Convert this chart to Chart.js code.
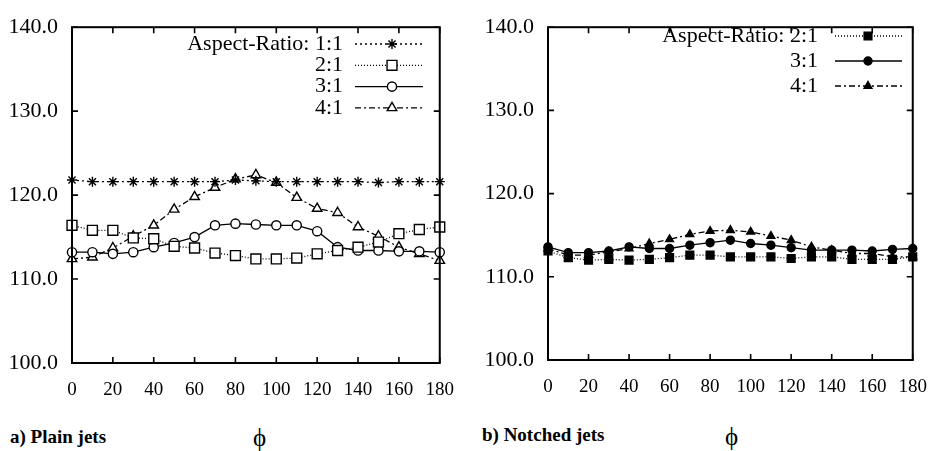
<!DOCTYPE html>
<html>
<head>
<meta charset="utf-8">
<script src="https://cdn.jsdelivr.net/npm/chart.js@4.4.0/dist/chart.umd.min.js"></script>
<style>
  body { margin: 0; background: #fff; width: 943px; height: 451px; position: relative; overflow: hidden; font-family: "Liberation Serif", serif; color: #000; }
  canvas { position: absolute; top: 0; }
  #plain { left: 0; }
  #notched { left: 470px; }
  .cap { position: absolute; font-weight: bold; font-size: 19px; line-height: 22px; white-space: nowrap; }
  .phi { position: absolute; font-size: 25px; line-height: 28px; }
</style>
</head>
<body>
<canvas id="plain" width="470" height="405"></canvas>
<canvas id="notched" width="473" height="405"></canvas>
<div class="cap" style="left:10px;top:426px">a) Plain jets</div>
<div class="phi" style="left:253px;top:424px">ϕ</div>
<div class="cap" style="left:482px;top:424px">b) Notched jets</div>
<div class="phi" style="left:725px;top:423px">ϕ</div>
<script>
// jet angle phi (deg)
const angles = [0, 10, 20, 30, 40, 50, 60, 70, 80, 90, 100, 110, 120, 130, 140, 150, 160, 170, 180];

// a) plain jets
const plainLabels = ['Aspect-Ratio: 1:1', '2:1', '3:1', '4:1'];
const plain11 = [121.8, 121.6, 121.6, 121.6, 121.6, 121.6, 121.6, 121.6, 121.8, 121.7, 121.6, 121.6, 121.6, 121.6, 121.6, 121.5, 121.6, 121.6, 121.6];
const plain21 = [116.4, 115.8, 115.8, 114.9, 114.8, 113.9, 113.7, 113.1, 112.8, 112.4, 112.4, 112.5, 113.0, 113.4, 113.8, 114.4, 115.4, 115.9, 116.2];
const plain31 = [113.2, 113.2, 113.0, 113.2, 113.8, 114.3, 115.0, 116.4, 116.6, 116.5, 116.4, 116.4, 115.7, 113.8, 113.4, 113.4, 113.3, 113.3, 113.2];
const plain41 = [112.4, 112.6, 113.7, 115.1, 116.4, 118.3, 119.8, 120.9, 121.9, 122.4, 121.5, 119.7, 118.4, 117.9, 116.2, 115.1, 113.8, 113.0, 112.2];

// b) notched jets
const notchedLabels = ['Aspect-Ratio: 2:1', '3:1', '4:1'];
const notched21 = [113.1, 112.3, 112.0, 112.1, 112.0, 112.1, 112.3, 112.6, 112.6, 112.4, 112.4, 112.4, 112.2, 112.4, 112.4, 112.1, 112.1, 112.1, 112.4];
const notched31 = [113.6, 112.9, 112.9, 113.1, 113.6, 113.4, 113.4, 113.8, 114.1, 114.4, 114.0, 113.8, 113.5, 113.2, 113.2, 113.2, 113.1, 113.3, 113.4];
const notched41 = [113.4, 112.6, 112.6, 113.0, 113.4, 114.0, 114.5, 115.1, 115.5, 115.6, 115.4, 114.9, 114.4, 113.6, 113.2, 112.8, 112.8, 112.4, 112.4];

const SERIF = '"Liberation Serif", serif';
Chart.defaults.font.family = SERIF;
Chart.defaults.color = '#000';

const pts = vals => angles.map((a, i) => ({ x: a, y: vals[i] }));

function series(label, vals, dash, style, radius, fill) {
  return {
    label: label,
    data: pts(vals),
    borderColor: '#000',
    borderWidth: 1.3,
    borderDash: dash,
    pointStyle: style,
    pointRadius: radius,
    pointBorderWidth: 1.4,
    pointBorderColor: '#000',
    pointBackgroundColor: fill,
    clip: false,
    tension: 0
  };
}

// box around the plot with inward tick marks
const frame = {
  id: 'frame',
  afterDraw(chart) {
    const { ctx, chartArea: a, scales: { x, y } } = chart;
    ctx.save();
    ctx.strokeStyle = '#000';
    ctx.lineWidth = 2;
    ctx.strokeRect(a.left, a.top, a.right - a.left, a.bottom - a.top);
    ctx.lineWidth = 1.6;
    ctx.beginPath();
    x.ticks.forEach(t => {
      const px = x.getPixelForValue(t.value);
      ctx.moveTo(px, a.bottom); ctx.lineTo(px, a.bottom - 6);
      ctx.moveTo(px, a.top); ctx.lineTo(px, a.top + 6);
    });
    y.ticks.forEach(t => {
      const py = y.getPixelForValue(t.value);
      ctx.moveTo(a.left, py); ctx.lineTo(a.left + 6, py);
      ctx.moveTo(a.right, py); ctx.lineTo(a.right - 6, py);
    });
    ctx.stroke();
    ctx.restore();
  }
};

// key in the upper right: text, then a line sample with its marker
const keyBox = {
  id: 'keyBox',
  afterDraw(chart, args, o) {
    const ctx = chart.ctx;
    ctx.save();
    chart.data.datasets.forEach((ds, i) => {
      const y = o.top + i * o.gap;
      ctx.font = '22px ' + SERIF;
      ctx.fillStyle = '#000';
      ctx.textAlign = 'right';
      ctx.textBaseline = 'middle';
      ctx.fillText(ds.label, o.textRight, y);
      ctx.strokeStyle = '#000';
      ctx.lineWidth = ds.borderWidth;
      ctx.setLineDash(ds.borderDash);
      ctx.beginPath();
      ctx.moveTo(o.from, y); ctx.lineTo(o.to, y);
      ctx.stroke();
      ctx.setLineDash([]);
      ctx.fillStyle = ds.pointBackgroundColor;
      ctx.lineWidth = ds.pointBorderWidth;
      Chart.helpers.drawPoint(ctx, {
        pointStyle: ds.pointStyle, radius: ds.pointRadius, rotation: 0, borderWidth: ds.pointBorderWidth
      }, o.mark, y);
    });
    ctx.restore();
  }
};

function makeChart(id, datasets, area, key) {
  const cv = document.getElementById(id);
  return new Chart(cv, {
    type: 'line',
    data: { datasets: datasets },
    options: {
      responsive: false,
      animation: false,
      events: [],
      layout: { padding: { left: 0, top: area.top, right: cv.width - area.right, bottom: 0 } },
      plugins: { legend: { display: false }, tooltip: { enabled: false }, keyBox: key },
      scales: {
        x: {
          type: 'linear', min: 0, max: 180,
          grid: { display: false, drawTicks: false },
          border: { display: false },
          ticks: { stepSize: 20, padding: 16, maxRotation: 0, font: { size: 19 } },
          afterFit: s => { s.height = cv.height - area.bottom; }
        },
        y: {
          min: 100, max: 140,
          grid: { display: false, drawTicks: false },
          border: { display: false },
          ticks: { stepSize: 10, padding: area.labelGap, font: { size: 22 }, callback: v => v.toFixed(1) },
          afterFit: s => { s.width = area.left; }
        }
      }
    },
    plugins: [frame, keyBox]
  });
}

function drawAll() {
  makeChart('plain', [
    series(plainLabels[0], plain11, [2, 3], 'star', 5, '#fff'),
    series(plainLabels[1], plain21, [1, 2], 'rect', 7, '#fff'),
    series(plainLabels[2], plain31, [], 'circle', 4.6, '#fff'),
    series(plainLabels[3], plain41, [6, 3, 2, 3], 'triangle', 5.5, '#fff')
  ], { left: 72, right: 446, top: 15, bottom: 363, labelGap: 14 },
     { textRight: 343, from: 355, to: 423, mark: 392, top: 44, gap: 21.3 });

  makeChart('notched', [
    series(notchedLabels[0], notched21, [1, 2], 'rect', 5.5, '#000'),
    series(notchedLabels[1], notched31, [], 'circle', 4, '#000'),
    series(notchedLabels[2], notched41, [6, 3, 2, 3], 'triangle', 4.5, '#000')
  ], { left: 78, right: 454, top: 13, bottom: 360, labelGap: 14 },
     { textRight: 348, from: 365, to: 432, mark: 398, top: 36, gap: 25 });
}

// make sure the serif face is ready before the canvases get their text
Promise.all([
  document.fonts.load('22px "Liberation Serif"'),
  document.fonts.load('19px "Liberation Serif"')
]).then(drawAll, drawAll);
</script>
</body>
</html>
